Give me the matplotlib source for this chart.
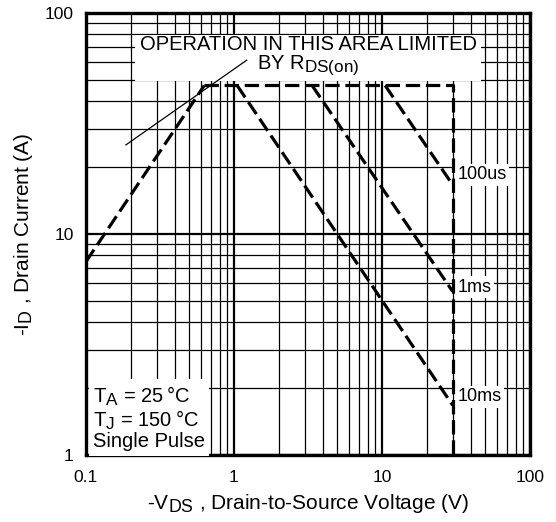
import numpy as np
import matplotlib
matplotlib.use("Agg")
import matplotlib.pyplot as plt
import matplotlib._mathtext as mt
from matplotlib.ticker import FixedLocator, NullFormatter

plt.rcParams['font.family'] = ['Liberation Sans', 'DejaVu Sans']
plt.rcParams['mathtext.fontset'] = 'custom'
plt.rcParams['mathtext.rm'] = 'Liberation Sans'
plt.rcParams['mathtext.it'] = 'Liberation Sans:italic'
mt.SHRINK_FACTOR = 0.85  # subscripts in the datasheet are nearly full size

# safe operating area boundaries
rds_vds = [0.1, 0.63]
rds_id = [7.5, 47]
limit_vds = [0.63, 30, 30]
limit_id = [47, 47, 1]
pulse_names = ["100us", "1ms", "10ms"]
pulse_vds = [[10.5, 30], [3.37, 30], [1.05, 30]]
pulse_id = [[47, 16.7], [47, 5.5], [47, 1.68]]
label_pos = [(32.3, 18.5), (32.3, 5.75), (32.3, 1.83)]

x_ticks = [0.1, 1, 10, 100]
x_ticklabels = ["0.1", "1", "10", "100"]
y_ticks = [1, 10, 100]
y_ticklabels = ["1", "10", "100"]

fig = plt.figure(figsize=(5.56, 5.22), dpi=100)
ax = fig.add_axes([86/556, 1-455/522, 444/556, 442/522])
ax.set_xscale('log')
ax.set_yscale('log')
ax.set_xlim(0.1, 100)
ax.set_ylim(1, 100)

# grid: every 1..9 of each decade, decades heavier
minor = [m * 10.0**e for e in range(-1, 2) for m in range(2, 10)]
ax.xaxis.set_major_locator(FixedLocator(x_ticks))
ax.yaxis.set_major_locator(FixedLocator(y_ticks))
ax.xaxis.set_minor_locator(FixedLocator([v for v in minor if v < 100]))
ax.yaxis.set_minor_locator(FixedLocator([v for v in minor if 1 < v < 100]))
ax.xaxis.set_minor_formatter(NullFormatter())
ax.yaxis.set_minor_formatter(NullFormatter())
ax.set_xticklabels(x_ticklabels)
ax.set_yticklabels(y_ticklabels)
ax.tick_params(which='both', length=0, labelsize=12.5)
ax.tick_params(axis='x', pad=11)
ax.tick_params(axis='y', pad=9)
ax.set_axisbelow(True)
ax.grid(which='major', color='k', lw=1.6)
ax.grid(which='minor', color='k', lw=0.9)
for s in ax.spines.values():
    s.set_linewidth(2.4)

dash = dict(color='k', lw=2.3, ls=(0, (4.5, 1.8)), zorder=5, solid_capstyle='butt')
ax.plot(rds_vds, rds_id, **dash)
ax.plot(limit_vds, limit_id, **dash)
for name, xs, ys, pos in zip(pulse_names, pulse_vds, pulse_id, label_pos):
    ax.plot(xs, ys, **dash)
    ax.text(pos[0], pos[1], name, fontsize=13, ha='left', va='center', zorder=4,
            bbox=dict(fc='white', ec='none', pad=2))

ax.text(0.5, 0.903, 'OPERATION IN THIS AREA LIMITED\nBY R$_{\\mathrm{DS(on)}}$',
        transform=ax.transAxes, fontsize=14.5, ha='center', va='center',
        multialignment='center', linespacing=0.95, zorder=4,
        bbox=dict(fc='white', ec='none', pad=3))
ax.plot([0.186, 1.22], [25.3, 61.2], color='k', lw=0.9, zorder=6)

ax.text(0.016, 0.008, 'T$_\\mathrm{A}$ = 25\u2009°C\nT$_\\mathrm{J}$ = 150\u2009°C\nSingle Pulse',
        transform=ax.transAxes, fontsize=14.5, ha='left', va='bottom',
        linespacing=1.05, zorder=4, bbox=dict(fc='white', ec='none', pad=3))

ax.set_xlabel('-V$_\\mathrm{DS}$ , Drain-to-Source Voltage (V)', fontsize=15, labelpad=5)
ax.set_ylabel('-I$_\\mathrm{D}$ , Drain Current (A)', fontsize=15, labelpad=7)

fig.savefig('out.png', dpi=100)
